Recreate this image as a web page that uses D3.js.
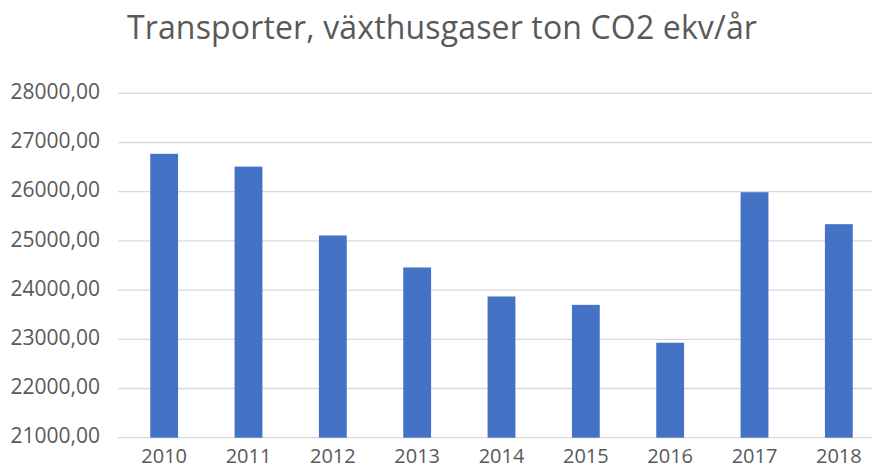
<!DOCTYPE html>
<html>
<head>
<meta charset="utf-8">
<script src="https://cdn.jsdelivr.net/npm/d3@7"></script>
<style>
  html, body { margin: 0; padding: 0; background: #fff; }
  svg { display: block; }
  text { font-family: "Open Sans", sans-serif; fill: #595959; }
</style>
</head>
<body>
<svg id="chart" width="872" height="469"></svg>
<script>
const years = ["2010","2011","2012","2013","2014","2015","2016","2017","2018"];
const values = [26770, 26510, 25110, 24460, 23870, 23700, 22930, 25990, 25340];
const yTicks = [21000, 22000, 23000, 24000, 25000, 26000, 27000, 28000];
const title = "Transporter, växthusgaser ton CO2 ekv/år";

const svg = d3.select("#chart");
const W = 872, H = 469;
const plotLeft = 118, plotRight = 881, plotTop = 93.3, plotBottom = 437.7;

const x = d3.scaleBand().domain(years).range([plotLeft + 4, plotRight]).paddingInner(0.67).paddingOuter(0.335);
const y = d3.scaleLinear().domain([21000, 28000]).range([plotBottom, plotTop]);

const fmt = v => d3.format(".2f")(v).replace(".", ",");

// gridlines
svg.append("g").selectAll("line").data(yTicks).join("line")
  .attr("x1", plotLeft).attr("x2", W)
  .attr("y1", d => y(d)).attr("y2", d => y(d))
  .attr("stroke", "#d9d9d9").attr("stroke-width", 1.3);

// y axis labels
const yAxis = d3.axisLeft(y).tickValues(yTicks).tickFormat(fmt).tickSize(0).tickPadding(0);
const gy = svg.append("g").attr("transform", `translate(100,0)`).call(yAxis);
gy.select(".domain").remove();
gy.selectAll("text").attr("dy", "0.25em").style("font-size", "21px").attr("fill", "#595959").style("font-family", '"Open Sans", sans-serif');

// bars
svg.append("g").selectAll("rect").data(values).join("rect")
  .attr("x", (d, i) => x(years[i]))
  .attr("width", x.bandwidth())
  .attr("y", d => y(d))
  .attr("height", d => y(21000) - y(d))
  .attr("fill", "#4472c4");

// x axis labels
const xAxis = d3.axisBottom(x).tickSize(0).tickPadding(0);
const gx = svg.append("g").attr("transform", `translate(0,449)`).call(xAxis);
gx.select(".domain").remove();
gx.selectAll("text").style("font-size", "20px").attr("fill", "#595959").style("font-family", '"Open Sans", sans-serif');

// title
svg.append("text").attr("x", 442).attr("y", 39).attr("text-anchor", "middle")
  .style("font-size", "32px").style("letter-spacing", "0.15px").text(title);
</script>
</body>
</html>
